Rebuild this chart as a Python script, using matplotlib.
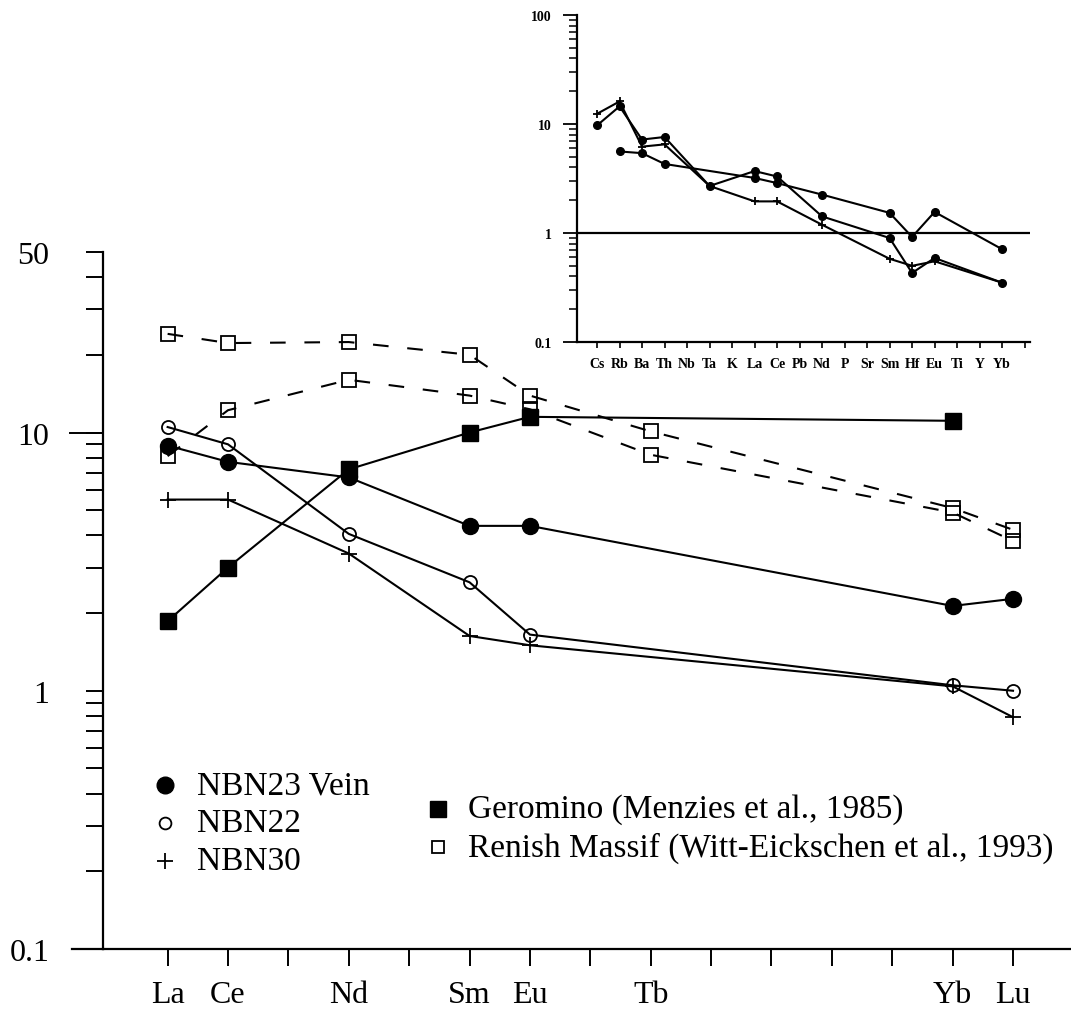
import numpy as np
import matplotlib
matplotlib.use('Agg')
import matplotlib.pyplot as plt
import matplotlib.transforms as mtransforms
from matplotlib.ticker import FixedLocator, FixedFormatter, NullFormatter

plt.rcParams['font.family'] = ['Liberation Serif', 'DejaVu Serif']

#=============== main REE diagram data ===============
ree = ['La', 'Ce', 'Pr', 'Nd', 'Pm', 'Sm', 'Eu', 'Gd', 'Tb', 'Dy', 'Ho', 'Er', 'Tm', 'Yb', 'Lu']
ree_shown = ['La', 'Ce', 'Nd', 'Sm', 'Eu', 'Tb', 'Yb', 'Lu']

nbn_el = ['La', 'Ce', 'Nd', 'Sm', 'Eu', 'Yb', 'Lu']
nbn23 = [8.9, 7.7, 6.7, 4.35, 4.35, 2.13, 2.27]
nbn22 = [10.5, 9.0, 4.05, 2.63, 1.65, 1.05, 1.0]
nbn30 = [5.5, 5.5, 3.4, 1.63, 1.5, 1.04, 0.79]

geromino_el = ['La', 'Ce', 'Nd', 'Sm', 'Eu', 'Yb']
geromino = [1.86, 3.0, 7.2, 10.0, 11.5, 11.1]

renish_el = ['La', 'Ce', 'Nd', 'Sm', 'Eu', 'Tb', 'Yb', 'Lu']
renish_a = [24.1, 22.2, 22.4, 20.0, 13.9, 10.1, 5.1, 4.2]
renish_b = [8.1, 12.2, 16.0, 13.9, 12.3, 8.2, 4.9, 3.8]

y_major = [0.1, 1, 10, 50]
y_major_labels = ['0.1', '1', '10', '50']

#=============== inset spider diagram data ===============
spider = ['Cs', 'Rb', 'Ba', 'Th', 'Nb', 'Ta', 'K', 'La', 'Ce', 'Pb',
          'Nd', 'P', 'Sr', 'Sm', 'Hf', 'Eu', 'Ti', 'Y', 'Yb']
s1_el = ['Cs', 'Rb', 'Ba', 'Th', 'Ta', 'La', 'Ce', 'Nd', 'Sm', 'Hf', 'Eu', 'Yb']
s1 = [9.7, 14.5, 7.2, 7.6, 2.7, 3.7, 3.3, 1.42, 0.9, 0.43, 0.59, 0.35]
s2_el = ['Cs', 'Rb', 'Ba', 'Th', 'Ta', 'La', 'Ce', 'Nd', 'Sm', 'Hf', 'Eu', 'Yb']
s2 = [12.4, 16.1, 6.2, 6.5, 2.7, 1.95, 1.95, 1.19, 0.58, 0.5, 0.55, 0.35]
s3_el = ['Rb', 'Ba', 'Th', 'La', 'Ce', 'Nd', 'Sm', 'Hf', 'Eu', 'Yb']
s3 = [5.6, 5.4, 4.3, 3.2, 2.87, 2.25, 1.53, 0.92, 1.56, 0.71]

inset_major = [0.1, 1, 10, 100]
inset_major_labels = ['0.1', '1', '10', '100']

W, H = 1071, 1012


def pos(els, ref):
    return [ref.index(e) for e in els]


fig = plt.figure(figsize=(W / 100, H / 100), dpi=100)

#=============== main axes ===============
ax = fig.add_axes([103 / W, 1 - 950 / H, (W - 103) / W, (950 - 253) / H])
lw = 1.5
ax.plot(pos(renish_el, ree), renish_a, color='k', lw=lw, ls=(0, (7.5, 9)),
        marker='s', ms=9.4, mfc='none', mec='k', mew=1.3)
ax.plot(pos(renish_el, ree), renish_b, color='k', lw=lw, ls=(0, (7.5, 9)),
        marker='s', ms=9.4, mfc='none', mec='k', mew=1.3)
ax.plot(pos(geromino_el, ree), geromino, color='k', lw=lw,
        marker='s', ms=11.5, mfc='k', mec='k')
ax.plot(pos(nbn_el, ree), nbn23, color='k', lw=lw,
        marker='o', ms=11.5, mfc='k', mec='k')
ax.plot(pos(nbn_el, ree), nbn22, color='k', lw=lw,
        marker='o', ms=9.4, mfc='none', mec='k', mew=1.3)
ax.plot(pos(nbn_el, ree), nbn30, color='k', lw=lw,
        marker='+', ms=11, mec='k', mew=1.3)

ax.set_yscale('log')
ax.set_ylim(0.1, 50)
ax.set_xlim(-1.07, 14.96)
ax.yaxis.set_major_locator(FixedLocator(y_major))
ax.yaxis.set_major_formatter(FixedFormatter(y_major_labels))
minors = [m * d for d in (0.1, 1, 10) for m in range(2, 10) if m * d < 50]
ax.yaxis.set_minor_locator(FixedLocator(minors))
ax.yaxis.set_minor_formatter(NullFormatter())
ax.set_xticks(range(len(ree)))
ax.set_xticklabels([e if e in ree_shown else '' for e in ree])

for s in ['top', 'right']:
    ax.spines[s].set_visible(False)
for s in ['left', 'bottom']:
    ax.spines[s].set_linewidth(1.6)
ax.tick_params(axis='y', which='both', direction='out', length=12.5, width=1.4,
               pad=26, labelsize=23)
ax.tick_params(axis='x', which='major', direction='out', length=12.5, width=1.4,
               pad=10, labelsize=23)

trans = mtransforms.blended_transform_factory(ax.transAxes, ax.transData)
ax.plot([-33 / 968, 0], [10, 10], transform=trans, color='k', lw=1.4, clip_on=False)
ax.plot([-31 / 968, 0], [0.1, 0.1], transform=trans, color='k', lw=1.6, clip_on=False)

#=============== legends (hand placed, like the original) ===============
def fx(px):
    return px / W


def fy(py):
    return 1 - py / H


leg_left = [('NBN23 Vein', dict(marker='o', ms=12, mfc='k', mec='k')),
            ('NBN22', dict(marker='o', ms=8.5, mfc='none', mec='k', mew=1.3)),
            ('NBN30', dict(marker='+', ms=11, mec='k', mew=1.3))]
for i, (lab, st) in enumerate(leg_left):
    y = 786 + 38 * i
    fig.lines.append(plt.Line2D([fx(165)], [fy(y)], transform=fig.transFigure,
                                color='k', ls='none', **st))
    fig.text(fx(197), fy(y), lab, fontsize=24, va='center', ha='left')

leg_right = [('Geromino (Menzies et al., 1985)', dict(marker='s', ms=11, mfc='k', mec='k')),
             ('Renish Massif (Witt-Eickschen et al., 1993)',
              dict(marker='s', ms=9, mfc='none', mec='k', mew=1.3))]
for i, (lab, st) in enumerate(leg_right):
    y = 810 + 38 * i
    fig.lines.append(plt.Line2D([fx(438)], [fy(y)], transform=fig.transFigure,
                                color='k', ls='none', **st))
    fig.text(fx(468), fy(y), lab, fontsize=24, va='center', ha='left')

#=============== inset ===============
axi = fig.add_axes([577 / W, 1 - 343 / H, (1030 - 577) / W, (343 - 16) / H])
axi.axhline(1, color='k', lw=1.6)
axi.plot(pos(s1_el, spider), s1, color='k', lw=1.5, marker='o', ms=5.5)
axi.plot(pos(s2_el, spider), s2, color='k', lw=1.5, marker='+', ms=5.5, mew=1.3)
axi.plot(pos(s3_el, spider), s3, color='k', lw=1.5, marker='o', ms=5.5)

axi.set_yscale('log')
axi.set_ylim(0.1, 100)
axi.set_xlim(-0.89, 19.24)
axi.yaxis.set_major_locator(FixedLocator(inset_major))
axi.yaxis.set_major_formatter(FixedFormatter(inset_major_labels))
iminors = [m * d for d in (0.1, 1, 10) for m in range(2, 10)]
axi.yaxis.set_minor_locator(FixedLocator(iminors))
axi.yaxis.set_minor_formatter(NullFormatter())
axi.set_xticks(range(len(spider) + 1))
axi.set_xticklabels(spider + [''])
for s in ['top', 'right']:
    axi.spines[s].set_visible(False)
for s in ['left', 'bottom']:
    axi.spines[s].set_linewidth(1.6)
axi.tick_params(axis='y', which='major', length=10, width=1.3, pad=8)
axi.tick_params(axis='y', which='minor', length=6, width=1.1)
axi.tick_params(axis='x', which='major', length=4.5, width=1.2, pad=6)
for t in axi.get_xticklabels() + axi.get_yticklabels():
    t.set_fontsize(10)
    t.set_fontweight('bold')

fig.savefig('out.png', dpi=100)
